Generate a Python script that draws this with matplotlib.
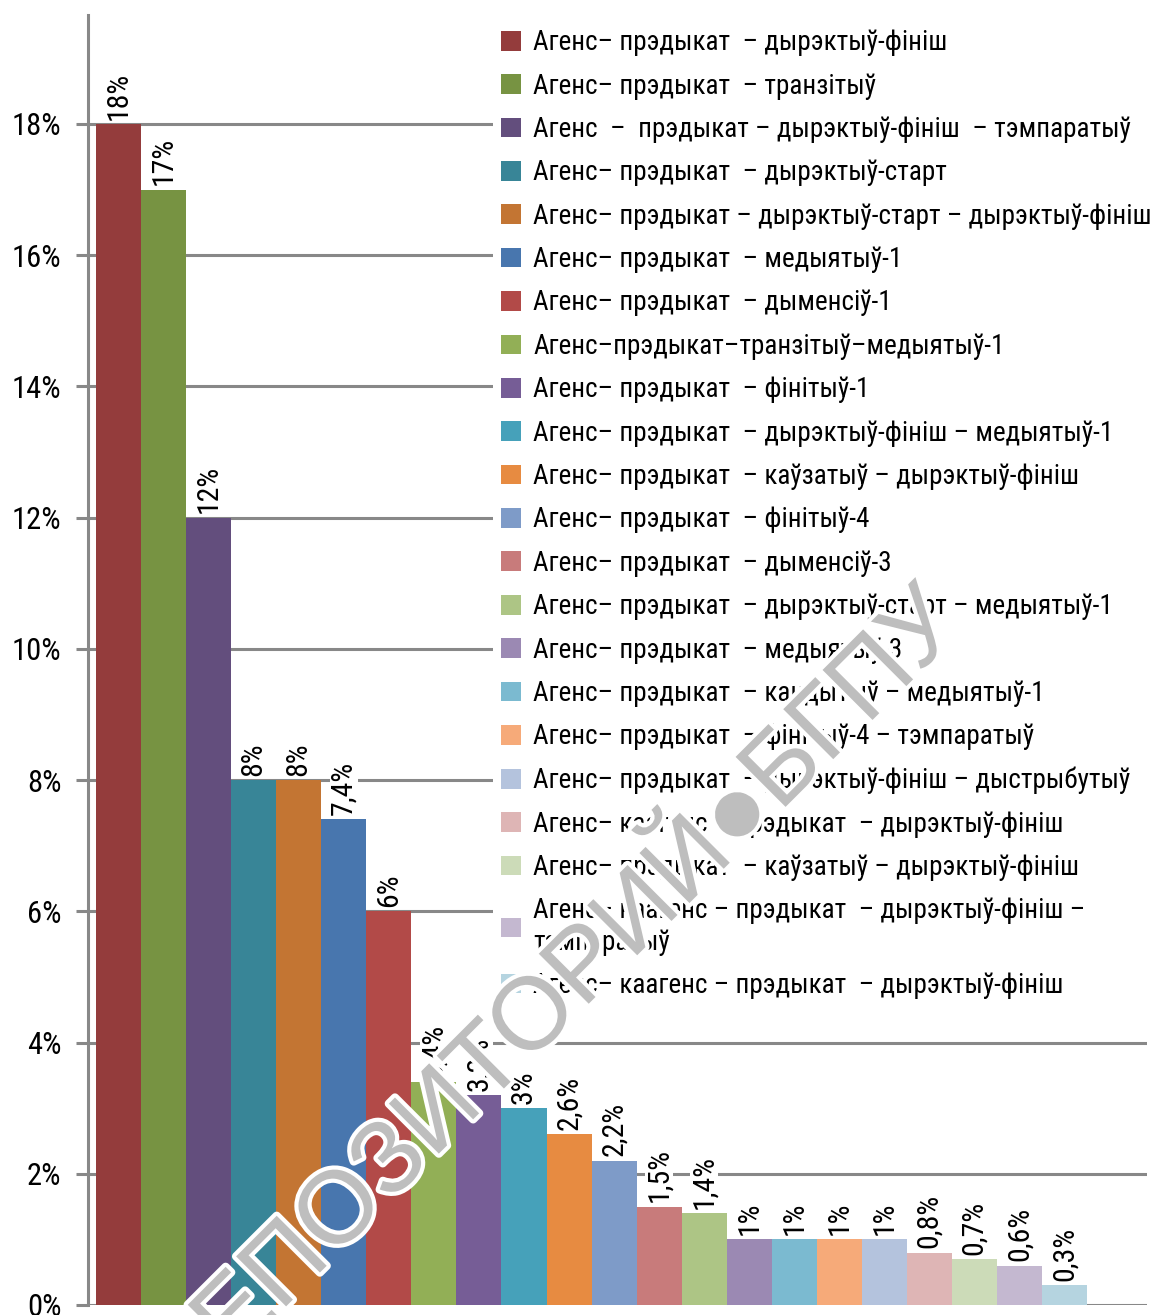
import matplotlib
matplotlib.use("Agg")
import matplotlib.pyplot as plt
from matplotlib import font_manager
import matplotlib.patheffects as pe

# ---------------- data ----------------
categories = [
    "Агенс– прэдыкат  – дырэктыў-фініш",
    "Агенс– прэдыкат  – транзітыў",
    "Агенс  –  прэдыкат – дырэктыў-фініш  – тэмпаратыў",
    "Агенс– прэдыкат  – дырэктыў-старт",
    "Агенс– прэдыкат – дырэктыў-старт – дырэктыў-фініш",
    "Агенс– прэдыкат  – медыятыў-1",
    "Агенс– прэдыкат  – дыменсіў-1",
    "Агенс–прэдыкат–транзітыў–медыятыў-1",
    "Агенс– прэдыкат  – фінітыў-1",
    "Агенс– прэдыкат  – дырэктыў-фініш – медыятыў-1",
    "Агенс– прэдыкат  – каўзатыў – дырэктыў-фініш",
    "Агенс– прэдыкат  – фінітыў-4",
    "Агенс– прэдыкат  – дыменсіў-3",
    "Агенс– прэдыкат  – дырэктыў-старт – медыятыў-1",
    "Агенс– прэдыкат  – медыятыў-3",
    "Агенс– прэдыкат  – кандытыў – медыятыў-1",
    "Агенс– прэдыкат  – фінітыў-4 – тэмпаратыў",
    "Агенс– прэдыкат  – дырэктыў-фініш – дыстрыбутыў",
    "Агенс– каагенс – прэдыкат  – дырэктыў-фініш",
    "Агенс– прэдыкат  – каўзатыў – дырэктыў-фініш",
    "Агенс– каагенс – прэдыкат  – дырэктыў-фініш –\nтэмпаратыў",
    "Агенс– каагенс – прэдыкат  – дырэктыў-фініш",
]
values = [18, 17, 12, 8, 8, 7.4, 6, 3.4, 3.2, 3, 2.6, 2.2, 1.5, 1.4,
          1, 1, 1, 1, 0.8, 0.7, 0.6, 0.3]
value_labels = ["18%", "17%", "12%", "8%", "8%", "7,4%", "6%", "3,4%", "3,2%",
                "3%", "2,6%", "2,2%", "1,5%", "1,4%", "1%", "1%", "1%", "1%",
                "0,8%", "0,7%", "0,6%", "0,3%"]
colors = ["#943C3C", "#779342", "#634E7D", "#388597", "#C37533", "#4876AE",
          "#B24A48", "#92AF56", "#765D96", "#46A1BA", "#E78B41", "#7E9BC8",
          "#C87B7B", "#ADC585", "#9B89B3", "#7BBAD0", "#F6AA79", "#B4C3DD",
          "#DEB5B5", "#CCDBB8", "#C4B8D0", "#B5D4E0"]
yticks = [0, 2, 4, 6, 8, 10, 12, 14, 16, 18]
ytick_labels = ["0%", "2%", "4%", "6%", "8%", "10%", "12%", "14%", "16%", "18%"]
watermark = "РЕПОЗИТОРИЙ●БГПУ"

# ---------------- fonts ----------------
def pick(names):
    for n in names:
        try:
            font_manager.findfont(n, fallback_to_default=False)
            return n
        except Exception:
            pass
    return "DejaVu Sans"

narrow = pick(["Liberation Sans Narrow", "Roboto Condensed", "Open Sans Condensed",
               "Liberation Sans"])
wm_font = pick(["Liberation Sans", "DejaVu Sans"])
plt.rcParams["font.family"] = [narrow, "DejaVu Sans"]

GRID = "#888888"

fig = plt.figure(figsize=(11.54, 13.15), dpi=100)
ax = fig.add_axes([88 / 1154, 1 - 1305 / 1315, (1147 - 88) / 1154, (1305 - 15) / 1315])

x = list(range(len(values)))
for i in x:
    b = ax.bar(i, values[i], width=1.0, color=colors[i], label=categories[i],
               zorder=2, linewidth=0)
    ax.bar_label(b, labels=[value_labels[i]], rotation=90, padding=3,
                 fontsize=21.5, color="black", zorder=4,
                 bbox=dict(facecolor="white", edgecolor="none", pad=0))

ax.set_xlim(-0.678, 22.83)
ax.set_ylim(0, 19.66)
ax.set_yticks(yticks)
ax.set_yticklabels(ytick_labels, fontsize=22)
ax.set_xticks([])
ax.yaxis.grid(True, color=GRID, linewidth=2.2, zorder=0)
ax.set_axisbelow(True)
ax.tick_params(axis="y", length=9, width=2.2, color=GRID, pad=10)
for s in ["top", "right", "bottom"]:
    ax.spines[s].set_visible(False)
ax.spines["left"].set_color(GRID)
ax.spines["left"].set_linewidth(2.2)

leg = fig.legend(loc="upper left", bbox_to_anchor=(493 / 1154, 1 - 21 / 1315),
                 fontsize=19.5, frameon=True, facecolor="white", edgecolor="none",
                 framealpha=1, handlelength=0.74, handleheight=0.74,
                 handletextpad=0.45, labelspacing=0.605, borderpad=0.3,
                 borderaxespad=0, fancybox=False)
leg.set_zorder(3)

fig.text(555 / 1154, 1 - 1000 / 1315, watermark, rotation=45, fontsize=74,
         color="#BEBEBE", ha="center", va="center", family=wm_font,
         zorder=10, rotation_mode="anchor",
         path_effects=[pe.withStroke(linewidth=6, foreground="white")])

fig.savefig("out.png", dpi=100)
